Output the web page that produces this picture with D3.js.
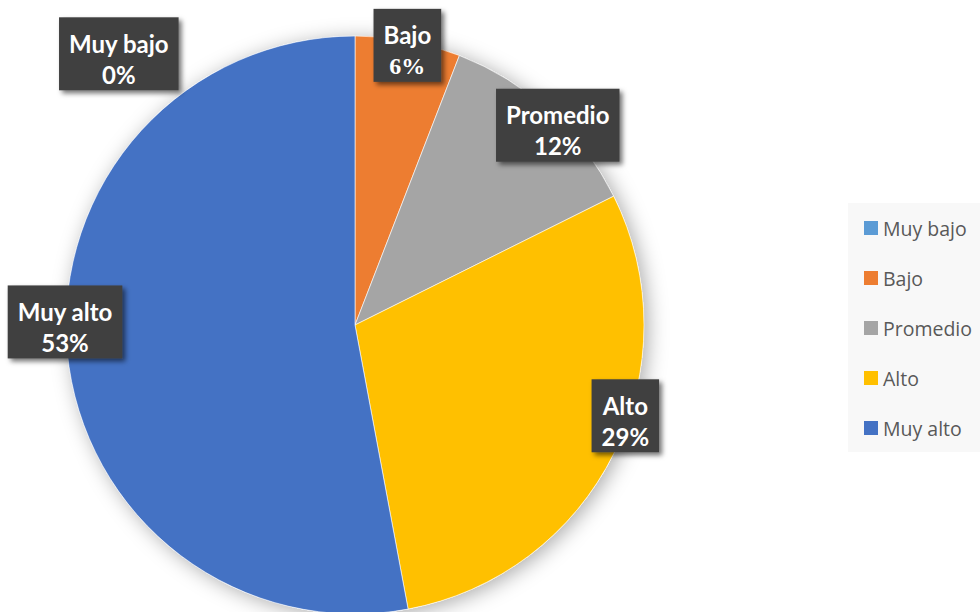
<!DOCTYPE html>
<html>
<head>
<meta charset="utf-8">
<script src="https://cdn.jsdelivr.net/npm/d3@7"></script>
<style>
  html, body { margin: 0; padding: 0; background: #ffffff; overflow: hidden; }
  svg { display: block; }
</style>
</head>
<body>
<div id="main"></div>
<script>
// counts per level (n = 17)
const categories = ['Muy bajo', 'Bajo', 'Promedio', 'Alto', 'Muy alto'];
const counts = [0, 1, 2, 5, 9];
const colors = ['#5B9BD5', '#ED7D31', '#A5A5A5', '#FFC000', '#4472C4'];

const WIDTH = 980, HEIGHT = 612;
const CX = 355, CY = 325, R = 289;

const svg = d3.select('#main').append('svg').attr('width', WIDTH).attr('height', HEIGHT);
const defs = svg.append('defs');

const pieShadow = defs.append('filter').attr('id', 'pieShadow')
    .attr('x', '-20%').attr('y', '-20%').attr('width', '140%').attr('height', '140%');
pieShadow.append('feDropShadow').attr('dx', 4).attr('dy', 3).attr('stdDeviation', 10)
    .attr('flood-color', '#000').attr('flood-opacity', 0.33);

const boxShadow = defs.append('filter').attr('id', 'boxShadow')
    .attr('x', '-20%').attr('y', '-20%').attr('width', '140%').attr('height', '140%');
boxShadow.append('feDropShadow').attr('dx', 3).attr('dy', 3).attr('stdDeviation', 2.5)
    .attr('flood-color', '#000').attr('flood-opacity', 0.55);

const total = d3.sum(counts);
const data = categories.map((name, i) => ({ name, value: counts[i], color: colors[i] }));

const pie = d3.pie().value(d => d.value).sort(null);
const arcs = pie(data);
const arc = d3.arc().innerRadius(0).outerRadius(R);

const g = svg.append('g').attr('transform', `translate(${CX},${CY})`);
g.append('circle').attr('r', R).attr('fill', '#fff').attr('filter', 'url(#pieShadow)');
g.selectAll('path.slice').data(arcs).enter().append('path').attr('class', 'slice')
    .attr('d', arc)
    .attr('fill', d => d.data.color)
    .attr('stroke', '#fff')
    .attr('stroke-width', 0.6);

// data labels: placed near the outer edge, Excel style
const labelR = 285;
const angleNudge = [-41, 0, 3, -8, 6]; // degrees, tweak to Excel "best fit"
const labelFont = 'Lato, "Open Sans", sans-serif';
const labels = svg.append('g');
arcs.forEach((a, i) => {
    const mid = (a.startAngle + a.endAngle) / 2 + angleNudge[i] * Math.PI / 180;
    const rr = a.value === 0 ? 360 : (a.data.name === 'Muy alto' ? 290 : labelR);
    const x = CX + rr * Math.sin(mid);
    const y = CY - rr * Math.cos(mid);
    const pct = Math.round(a.value / total * 100) + '%';
    const lg = labels.append('g').attr('transform', `translate(${x},${y})`);
    const t1 = lg.append('text').attr('y', -10).attr('text-anchor', 'middle')
        .attr('font-family', labelFont).attr('font-weight', 700).attr('font-size', 24)
        .attr('fill', '#fff').attr('dominant-baseline', 'central').text(a.data.name);
    const t2 = lg.append('text').attr('y', 21).attr('text-anchor', 'middle')
        .attr('font-family', a.data.name === 'Bajo' ? '"Liberation Serif", serif' : labelFont)
        .attr('font-weight', 700).attr('font-size', 24)
        .attr('fill', '#fff').attr('dominant-baseline', 'central').text(pct);
    const w = Math.max(t1.node().getComputedTextLength(), t2.node().getComputedTextLength()) + 20;
    lg.insert('rect', 'text')
        .attr('x', -w / 2).attr('y', -36).attr('width', w).attr('height', 73)
        .attr('fill', '#404040').attr('filter', 'url(#boxShadow)');
});

// legend
const legend = svg.append('g');
legend.append('rect').attr('x', 848).attr('y', 203).attr('width', 140).attr('height', 249)
    .attr('fill', '#f8f8f8');
const legendY = d3.scalePoint().domain(categories).range([228, 428]);
const items = legend.selectAll('g.item').data(data).enter().append('g').attr('class', 'item')
    .attr('transform', d => `translate(864,${legendY(d.name)})`);
items.append('rect').attr('x', 0).attr('y', -7).attr('width', 14).attr('height', 14)
    .attr('fill', d => d.color);
items.append('text').attr('x', 19).attr('y', 0).attr('dominant-baseline', 'central')
    .attr('font-family', '"Open Sans", sans-serif').attr('font-size', 19.5).attr('fill', '#595959')
    .text(d => d.name);
</script>
</body>
</html>
